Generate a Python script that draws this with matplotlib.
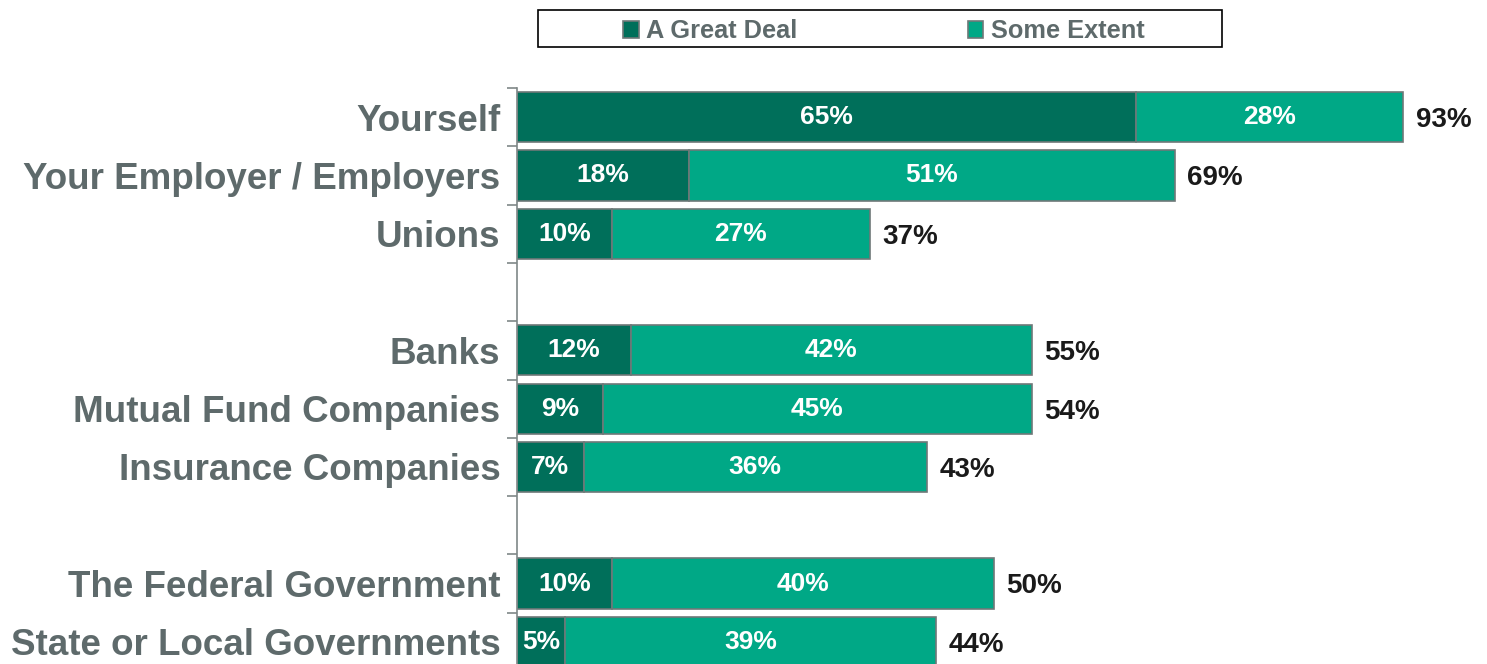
import numpy as np
import matplotlib
matplotlib.use("Agg")
import matplotlib.pyplot as plt
from matplotlib.patches import Rectangle

plt.rcParams["font.family"] = ["Liberation Sans", "DejaVu Sans"]

# Survey responses, grouped (a blank row separates the groups)
groups = [
    ["Yourself", "Your Employer / Employers", "Unions"],
    ["Banks", "Mutual Fund Companies", "Insurance Companies"],
    ["The Federal Government", "State or Local Governments"],
]
great_deal = [65, 18, 10, 12, 9, 7, 10, 5]
some_extent = [28, 51, 27, 42, 45, 36, 40, 39]
totals = [93, 69, 37, 55, 54, 43, 50, 44]
series_names = ["A Great Deal", "Some Extent"]

DARK = "#006F5A"
LIGHT = "#00A886"
EDGE = "#6E7878"
LABEL_GRAY = "#5E6A6B"

# Row positions: one slot per category plus an empty slot between groups
categories, positions = [], []
slot = 0
for gi, grp in enumerate(groups):
    for name in grp:
        categories.append(name)
        positions.append(slot)
        slot += 1
    if gi < len(groups) - 1:
        slot += 1
n_slots = slot

W, H = 1487, 664
fig = plt.figure(figsize=(W / 100, H / 100), dpi=100)
ax = fig.add_axes([517 / W, (H - 671) / H, 953 / W, 583 / H])

bar_h = 0.86
ax.barh(positions, great_deal, height=bar_h, color=DARK, edgecolor=EDGE,
        linewidth=1.2, label=series_names[0])
ax.barh(positions, some_extent, left=great_deal, height=bar_h, color=LIGHT,
        edgecolor=EDGE, linewidth=1.2, label=series_names[1])

for p, g, s, t in zip(positions, great_deal, some_extent, totals):
    ax.text(g / 2, p, f"{g}%", ha="center", va="center", color="white",
            fontsize=19, fontweight="bold")
    ax.text(g + s / 2, p, f"{s}%", ha="center", va="center", color="white",
            fontsize=19, fontweight="bold")
    ax.text(g + s + 1.3, p + 0.05, f"{t}%", ha="left", va="center",
            color="#1A1A1A", fontsize=20, fontweight="bold")

ax.set_xlim(0, 100)
ax.set_ylim(n_slots - 0.5, -0.5)
ax.set_xticks([])
ax.set_yticks(positions, categories)
ax.set_yticks(np.arange(-0.5, n_slots, 1.0), minor=True)
ax.tick_params(axis="y", which="major", length=0, pad=12,
               labelsize=26.5, labelcolor=LABEL_GRAY)
for lbl in ax.get_yticklabels():
    lbl.set_fontweight("bold")
ax.tick_params(axis="y", which="minor", length=7.5, width=1.2, color="#7F8787")
for side in ("top", "right", "bottom"):
    ax.spines[side].set_visible(False)
ax.spines["left"].set_color("#7F8787")
ax.spines["left"].set_linewidth(1.2)

# Legend box across the top
fig.patches.append(Rectangle((538 / W, (H - 47) / H), 684 / W, 37 / H,
                             transform=fig.transFigure, fill=False,
                             edgecolor="black", linewidth=1.2))
handles, labels = ax.get_legend_handles_labels()
fig.legend(handles, labels, loc="center",
           bbox_to_anchor=((538 + 1222) / 2 / W + 4 / W, (H - 31.5) / H),
           ncol=2, frameon=False, columnspacing=6.7, handlelength=0.6,
           handleheight=0.6, handletextpad=0.3, labelcolor=LABEL_GRAY,
           prop={"size": 18.3, "weight": "bold"})

fig.savefig("out.png", dpi=100)
